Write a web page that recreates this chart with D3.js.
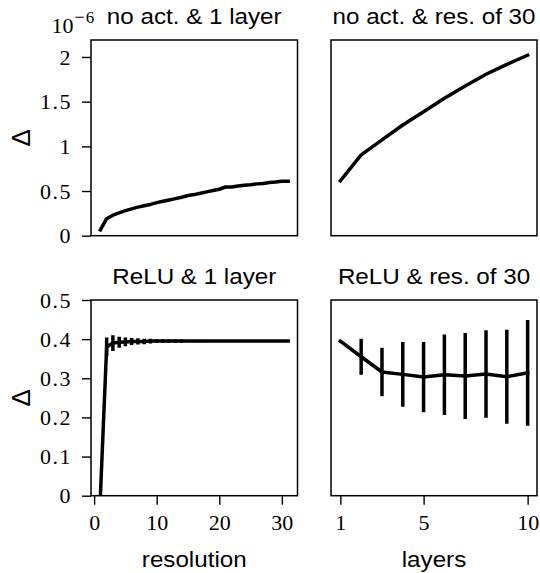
<!DOCTYPE html>
<html>
<head>
<meta charset="utf-8">
<script src="https://d3js.org/d3.v7.min.js"></script>
</head>
<body style="margin:0; background:#fff">
<div id="chart"></div>
<script>

// x values
var resolutions = [1, 2, 3, 4, 5, 6, 7, 8, 9, 10, 11, 12, 13, 14, 15, 16,
    17, 18, 19, 20, 21, 22, 23, 24, 25, 26, 27, 28, 29, 30, 31];
var layers = [1, 2, 3, 4, 5, 6, 7, 8, 9, 10];

// no activation & 1 layer (in units of 1e-6)
var noActByRes = [0.065, 0.19, 0.23, 0.255, 0.28, 0.30, 0.32, 0.335, 0.35, 0.37,
    0.385, 0.40, 0.415, 0.43, 0.45, 0.46, 0.475, 0.49, 0.505, 0.52, 0.545,
    0.545, 0.555, 0.565, 0.57, 0.58, 0.585, 0.595, 0.60, 0.61, 0.61];

// no activation & resolution of 30 (in units of 1e-6)
var noActByLayer = [0.615, 0.904, 1.072, 1.239, 1.388, 1.538, 1.675, 1.807, 1.918, 2.02];

// ReLU & 1 layer: mean and error
var reluByRes = [0, 0.38, 0.39, 0.392, 0.393, 0.394, 0.394, 0.394, 0.395, 0.395,
    0.395, 0.395, 0.395, 0.395, 0.395, 0.395, 0.395, 0.395, 0.395, 0.395, 0.395,
    0.395, 0.395, 0.395, 0.395, 0.395, 0.395, 0.395, 0.395, 0.395, 0.395];
var reluByResErr = [0, 0.024, 0.02, 0.014, 0.011, 0.009, 0.008, 0.007, 0.006, 0.005,
    0.005, 0.004, 0.004, 0.004, 0.003, 0.003, 0.003, 0.003, 0.002, 0.002, 0.002,
    0.002, 0.002, 0.002, 0.001, 0.001, 0.001, 0.001, 0.001, 0.001, 0.001];

// ReLU & resolution of 30: mean and error
var reluByLayer = [0.395, 0.355, 0.316, 0.31, 0.303, 0.309, 0.306, 0.311, 0.304, 0.314];
var reluByLayerErr = [0, 0.046, 0.062, 0.083, 0.09, 0.103, 0.11, 0.112, 0.12, 0.135];

var titles = ["no act. & 1 layer", "no act. & res. of 30", "ReLU & 1 layer", "ReLU & res. of 30"];
var topYTicks = [0, 0.5, 1, 1.5, 2];
var botYTicks = [0, 0.1, 0.2, 0.3, 0.4, 0.5];
var resTicks = [0, 10, 20, 30];
var layerTicks = [1, 5, 10];

var SANS = "'Liberation Sans', Arial, sans-serif";
var SERIF = "'Liberation Serif', 'Times New Roman', serif";


var svg = d3.select("#chart").append("svg")
    .attr("width", 540)
    .attr("height", 573);

// panel boxes
var left = {x0: 91, x1: 297.5}, right = {x0: 331, x1: 537};
var top_ = {y0: 40, y1: 235.7}, bot = {y0: 300, y1: 495.7};

var xRes = d3.scaleLinear().domain([-0.5, 32.5]).range([left.x0, left.x1]);
var xLay = d3.scaleLinear().domain([0.55, 10.45]).range([right.x0, right.x1]);
var yTop = d3.scaleLinear().domain([0, 2.19]).range([top_.y1, top_.y0]);
var yBot = d3.scaleLinear().domain([0, 0.5]).range([bot.y1, bot.y0]);

var panels = [
    {x: xRes, y: yTop, xs: resolutions, ys: noActByRes, err: null, title: titles[0], yTicks: topYTicks, xTicks: null},
    {x: xLay, y: yTop, xs: layers, ys: noActByLayer, err: null, title: titles[1], yTicks: null, xTicks: null},
    {x: xRes, y: yBot, xs: resolutions, ys: reluByRes, err: reluByResErr, title: titles[2], yTicks: botYTicks, xTicks: resTicks},
    {x: xLay, y: yBot, xs: layers, ys: reluByLayer, err: reluByLayerErr, title: titles[3], yTicks: null, xTicks: layerTicks}
];

var fmt = d3.format("~g");

function styleAxis(a) {
    a.select(".domain").remove();
    a.selectAll(".tick line").style("stroke", "#000").style("stroke-width", 1.4);
    a.selectAll(".tick text")
        .style("font-family", SERIF)
        .style("font-size", "22px")
        .style("fill", "#000");
}

panels.forEach(function(p, i) {
    var x0 = p.x.range()[0], x1 = p.x.range()[1];
    var y0 = p.y.range()[1], y1 = p.y.range()[0];
    var g = svg.append("g");

    g.append("clipPath").attr("id", "clip" + i)
        .append("rect")
        .attr("x", x0).attr("y", y0)
        .attr("width", x1 - x0).attr("height", y1 - y0);

    var pts = p.xs.map(function(d, k) { return [d, p.ys[k], p.err ? p.err[k] : 0]; });

    var data = g.append("g").attr("clip-path", "url(#clip" + i + ")");

    // error bars
    data.selectAll(".bar")
        .data(pts.filter(function(d) { return d[2] > 0; }))
        .enter().append("line")
        .attr("class", "bar")
        .attr("x1", function(d) { return p.x(d[0]); })
        .attr("x2", function(d) { return p.x(d[0]); })
        .attr("y1", function(d) { return p.y(d[1] - d[2]); })
        .attr("y2", function(d) { return p.y(d[1] + d[2]); })
        .attr("stroke", "#000")
        .attr("stroke-width", 3.5);

    var line = d3.line()
        .x(function(d) { return p.x(d[0]); })
        .y(function(d) { return p.y(d[1]); });

    data.append("path")
        .attr("d", line(pts))
        .attr("fill", "none")
        .attr("stroke", "#000")
        .attr("stroke-width", 3.5)
        .attr("stroke-linejoin", "round")
        .attr("stroke-linecap", "square");

    if (p.yTicks) {
        var ya = g.append("g")
            .attr("transform", "translate(" + x0 + ",0)")
            .call(d3.axisLeft(p.y).tickValues(p.yTicks).tickSize(9).tickPadding(10)
                .tickSizeOuter(0).tickFormat(fmt));
        styleAxis(ya);
        ya.selectAll(".tick text").style("letter-spacing", "1.5px");
    }
    if (p.xTicks) {
        var xa = g.append("g")
            .attr("transform", "translate(0," + y1 + ")")
            .call(d3.axisBottom(p.x).tickValues(p.xTicks).tickSize(9).tickPadding(9.7)
                .tickSizeOuter(0).tickFormat(fmt));
        styleAxis(xa);
    }

    g.append("rect")
        .attr("x", x0).attr("y", y0)
        .attr("width", x1 - x0).attr("height", y1 - y0)
        .attr("fill", "none")
        .attr("stroke", "#000")
        .attr("stroke-width", 1.5);

    g.append("text")
        .attr("text-anchor", "middle")
        .style("font-family", SANS)
        .style("font-size", "22px")
        .attr("transform", "translate(" + ((x0 + x1) / 2) + "," + (y0 - 16) + ") scale(1.1,1)")
        .text(p.title);
});

// axis labels
[[xRes, "resolution"], [xLay, "layers"]].forEach(function(a) {
    var r = a[0].range();
    svg.append("text")
        .attr("text-anchor", "middle")
        .style("font-family", SANS)
        .style("font-size", "22px")
        .attr("transform", "translate(" + ((r[0] + r[1]) / 2) + ",567) scale(1.1,1)")
        .text(a[1]);
});

[yTop, yBot].forEach(function(y) {
    var r = y.range();
    svg.append("text")
        .attr("text-anchor", "middle")
        .style("font-family", SANS)
        .style("font-size", "26px")
        .attr("transform", "translate(30," + ((r[0] + r[1]) / 2) + ") rotate(-90)")
        .text("\u0394");
});

// offset text of the top row
var off = svg.append("text")
    .attr("x", 51.5)
    .attr("y", 33)
    .style("font-family", SERIF)
    .style("font-size", "22px");
off.append("tspan").text("10");
off.append("tspan").style("font-size", "18px").attr("dy", -10).attr("dx", 1).text("\u2212");
off.append("tspan").style("font-size", "17px").attr("dx", 1).text("6");

</script>
</body>
</html>
